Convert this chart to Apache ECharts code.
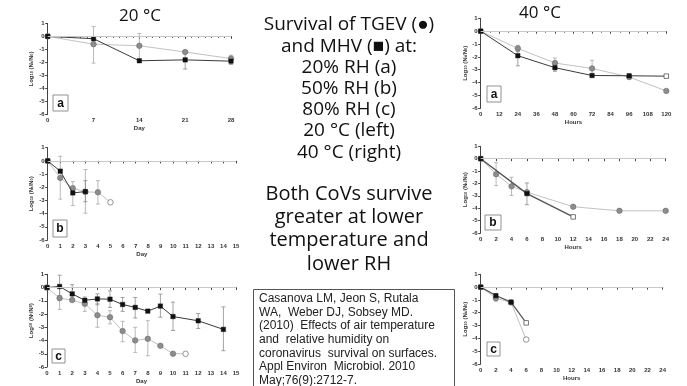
<!DOCTYPE html>
<html><head><meta charset="utf-8">
<script src="https://cdn.jsdelivr.net/npm/echarts@6/dist/echarts.min.js"></script>
<style>html,body{margin:0;padding:0;background:#fff}#c{width:687px;height:386px}</style>
</head><body><div id="c"></div>
<script>
// ---------- DATA ----------
// 20 °C, 20% RH (a)
const daysA20 = [0, 7, 14, 21, 28];
const tgevA20 = [0, -0.6, -0.72, -1.2, -1.7];
const mhvA20 = [0, -0.18, -1.87, -1.8, -1.9];
const tgevErrA20 = [[7, -2.05, 0.75], [14, -1.75, 0.22], [28, -2.0, -1.45]];
const mhvErrA20 = [[21, -2.5, -1.13], [28, -2.15, -1.65]];
// 20 °C, 50% RH (b)
const tgevDaysB20 = [0, 1, 2, 3, 4, 5];
const tgevB20 = [0, -1.29, -2.07, -2.35, -2.38, -3.14];
const tgevOpenB20 = [5];
const mhvDaysB20 = [0, 1, 2, 3];
const mhvB20 = [0, -0.78, -2.43, -2.33];
const tgevErrB20 = [[1, -2.9, 0.35], [2, -3.39, -1.57], [3, -3.97, -0.66], [4, -3.27, -1.5]];
const mhvErrB20 = [[3, -3.1, -1.5]];
// 20 °C, 80% RH (c)
const tgevDaysC20 = [0, 1, 2, 3, 4, 5, 6, 7, 8, 9, 10, 11];
const tgevC20 = [0, -0.8, -0.95, -1.23, -2.09, -2.24, -3.29, -3.99, -3.87, -4.4, -5.0, -5.0];
const tgevOpenC20 = [11];
const mhvDaysC20 = [0, 1, 2, 3, 4, 5, 6, 7, 8, 9, 10, 12, 14];
const mhvC20 = [0, 0.08, -0.48, -0.96, -0.86, -0.88, -1.28, -1.5, -1.78, -1.4, -2.19, -2.51, -3.16];
const tgevErrC20 = [[1, -1.65, 0.1], [3, -1.8, -0.7], [4, -3.0, -1.2], [5, -2.74, -1.75], [6, -4.09, -2.55], [7, -4.9, -3.0], [8, -5.15, -2.5]];
const mhvErrC20 = [[1, -0.6, 0.93], [2, -1.0, 0.22], [4, -1.3, -0.48], [5, -1.5, -0.25], [6, -1.8, -0.75], [7, -2.3, -0.75], [9, -2.24, -0.5], [10, -3.24, -1.1], [12, -3.09, -1.96], [14, -4.77, -1.46]];
// 40 °C, 20% RH (a)
const hoursA40 = [0, 24, 48, 72, 96, 120];
const tgevA40 = [0, -1.34, -2.48, -2.9, -3.57, -4.65];
const mhvA40 = [0, -1.91, -2.84, -3.45, -3.47, -3.5];
const mhvOpenA40 = [5];
const tgevErrA40 = [[24, -1.6, -1.1], [48, -2.8, -2.09], [72, -3.4, -2.27], [96, -3.75, -3.4]];
const mhvErrA40 = [[24, -2.7, -1.55], [48, -3.12, -2.6]];
// 40 °C, 50% RH (b)
const tgevHoursB40 = [0, 2, 4, 6, 12, 18, 24];
const tgevB40 = [0, -1.25, -2.23, -2.7, -3.88, -4.21, -4.21];
const mhvHoursB40 = [0, 6, 12];
const mhvB40 = [0, -2.82, -4.7];
const mhvOpenB40 = [2];
const tgevErrB40 = [[2, -2.17, -0.33], [4, -2.96, -1.5]];
const mhvErrB40 = [[6, -3.72, -1.96]];
// 40 °C, 80% RH (c)
const hoursC40 = [0, 2, 4, 6];
const tgevC40 = [0, -0.86, -1.2, -4.09];
const tgevOpenC40 = [3];
const mhvC40 = [0, -0.66, -1.17, -2.79];
const mhvOpenC40 = [3];
const tgevErrC40 = [[2, -1.1, -0.6]];
const mhvErrC40 = [];

// ---------- LAYOUT ----------
const grids = [
  {left: 47.7, top: 23.3, width: 183.3, height: 91.4},
  {left: 47.7, top: 147.7, width: 188.3, height: 92.3},
  {left: 47, top: 274.3, width: 189, height: 92.7},
  {left: 480.7, top: 18.3, width: 185.6, height: 90},
  {left: 480.7, top: 146.3, width: 185, height: 86.7},
  {left: 480.7, top: 274.3, width: 182, height: 89.7}
];
const xCfg = [
  {max: 28, interval: 7, minor: 7, name: 'Day'},
  {max: 15, interval: 1, minor: 0, name: 'Day'},
  {max: 15, interval: 1, minor: 0, name: 'Day'},
  {max: 120, interval: 12, minor: 2, name: 'Hours'},
  {max: 24, interval: 2, minor: 0, name: 'Hours'},
  {max: 24, interval: 2, minor: 0, name: 'Hours'}
];
const axisCol = '#444';
const lblStyle = {fontSize: 6, fontWeight: 'bold', color: '#333', fontFamily: 'Liberation Sans'};

const xAxis = xCfg.map((c, i) => ({
  type: 'value', gridIndex: i, min: 0, max: c.max, interval: c.interval,
  name: c.name, nameLocation: 'middle', nameGap: 11,
  nameTextStyle: {fontSize: 6, fontWeight: 'bold', color: '#333', fontFamily: 'Liberation Sans'},
  axisLine: {show: true, lineStyle: {color: axisCol, width: 1}},
  axisTick: {show: true, length: 2.5, lineStyle: {color: axisCol}},
  minorTick: {show: c.minor > 0, splitNumber: c.minor || 5, length: 1.5, lineStyle: {color: axisCol}},
  axisLabel: Object.assign({margin: 3}, lblStyle),
  splitLine: {show: false}
}));
const yAxis = grids.map((g, i) => ({
  type: 'value', gridIndex: i, min: -6, max: 1, interval: 1,
  name: '{t|Log}{s|10}{t| (N}{s|t}{t|/N}{s|0}{t|)}',
  nameLocation: 'middle', nameGap: i < 3 ? 13 : 11,
  nameTextStyle: {rich: {
    t: {fontSize: 6, fontWeight: 'bold', color: '#333', fontFamily: 'Liberation Sans'},
    s: {fontSize: 4, fontWeight: 'bold', color: '#333', fontFamily: 'Liberation Sans'}
  }},
  axisLine: {show: true, lineStyle: {color: axisCol, width: 1}},
  axisTick: {show: true, length: 2.5, lineStyle: {color: axisCol}},
  axisLabel: Object.assign({margin: 3}, lblStyle),
  splitLine: {show: false}
}));

const TG = {fill: '#8d8d8d', stroke: '#6a6a6a', line: '#c2c2c2', err: '#a8a8a8'};
const MH = {fill: '#111', stroke: '#111', line: '#3a3a3a', err: '#8a8a8a'};

function pts(xs, ys, open, kind) {
  return xs.map((x, i) => {
    const it = {value: [x, ys[i]]};
    if (open && open.indexOf(i) >= 0) it.itemStyle = {color: '#fff', borderColor: kind === 'tg' ? '#777' : '#555', borderWidth: 0.8};
    return it;
  });
}
function tgevSeries(gi, xs, ys, open) {
  return {
    type: 'line', xAxisIndex: gi, yAxisIndex: gi, z: 3,
    data: pts(xs, ys, open, 'tg'),
    symbol: 'circle', symbolSize: 5.5,
    itemStyle: {color: TG.fill, borderColor: TG.stroke, borderWidth: 0.6},
    lineStyle: {color: TG.line, width: 1},
    markLine: {silent: true, symbol: 'none', label: {show: false},
      lineStyle: {color: '#c8c8c8', width: 1, type: 'solid'}, data: [{yAxis: 0}]}
  };
}
function mhvSeries(gi, xs, ys, open, lineCol, lw) {
  return {
    type: 'line', xAxisIndex: gi, yAxisIndex: gi, z: 4,
    data: pts(xs, ys, open, 'mh'),
    symbol: 'rect', symbolSize: 4.5,
    itemStyle: {color: MH.fill, borderColor: MH.stroke, borderWidth: 0.4},
    lineStyle: {color: lineCol || MH.line, width: lw || 1}
  };
}
function errSeries(gi, data, col) {
  return {
    type: 'custom', xAxisIndex: gi, yAxisIndex: gi, z: 2,
    data: data, encode: {x: 0, y: [1, 2]},
    renderItem: function (params, api) {
      const x = api.value(0);
      const a = api.coord([x, api.value(1)]);
      const b = api.coord([x, api.value(2)]);
      const st = {stroke: col, lineWidth: 0.8};
      return {type: 'group', children: [
        {type: 'line', shape: {x1: a[0], y1: a[1], x2: b[0], y2: b[1]}, style: st},
        {type: 'line', shape: {x1: a[0] - 2, y1: a[1], x2: a[0] + 2, y2: a[1]}, style: st},
        {type: 'line', shape: {x1: b[0] - 2, y1: b[1], x2: b[0] + 2, y2: b[1]}, style: st}
      ]};
    }
  };
}

const series = [
  errSeries(0, tgevErrA20, TG.err), errSeries(0, mhvErrA20, MH.err),
  tgevSeries(0, daysA20, tgevA20, []), mhvSeries(0, daysA20, mhvA20, []),
  errSeries(1, tgevErrB20, TG.err), errSeries(1, mhvErrB20, MH.err),
  tgevSeries(1, tgevDaysB20, tgevB20, tgevOpenB20), mhvSeries(1, mhvDaysB20, mhvB20, []),
  errSeries(2, tgevErrC20, TG.err), errSeries(2, mhvErrC20, MH.err),
  tgevSeries(2, tgevDaysC20, tgevC20, tgevOpenC20), mhvSeries(2, mhvDaysC20, mhvC20, []),
  errSeries(3, tgevErrA40, TG.err), errSeries(3, mhvErrA40, MH.err),
  tgevSeries(3, hoursA40, tgevA40, []), mhvSeries(3, hoursA40, mhvA40, mhvOpenA40),
  errSeries(4, tgevErrB40, TG.err), errSeries(4, mhvErrB40, MH.err),
  tgevSeries(4, tgevHoursB40, tgevB40, []), mhvSeries(4, mhvHoursB40, mhvB40, mhvOpenB40, '#555', 1.4),
  errSeries(5, tgevErrC40, TG.err), errSeries(5, mhvErrC40, MH.err),
  tgevSeries(5, hoursC40, tgevC40, tgevOpenC40), mhvSeries(5, hoursC40, mhvC40, mhvOpenC40, '#555', 1.2)
];

// ---------- TEXT ----------
const letterBoxes = [
  {x: 53, y: 95, w: 15, h: 16, t: 'a'},
  {x: 53, y: 220, w: 14, h: 17, t: 'b'},
  {x: 52, y: 349, w: 13, h: 14, t: 'c'},
  {x: 487, y: 86, w: 14, h: 16, t: 'a'},
  {x: 485, y: 215, w: 16, h: 15, t: 'b'},
  {x: 487, y: 342, w: 13, h: 14, t: 'c'}
];
const centerLines = ['Survival of TGEV (\u25CF)', 'and MHV (\u25A0) at:', '20% RH (a)', '50% RH (b)', '80% RH (c)', '20 \u00B0C (left)', '40 \u00B0C (right)'];
const conclusionLines = ['Both CoVs survive', 'greater at lower', 'temperature and', 'lower RH'];
const citationLines = ['Casanova LM, Jeon S, Rutala', 'WA,  Weber DJ, Sobsey MD.', '(2010)  Effects of air temperature', 'and  relative humidity on', 'coronavirus  survival on surfaces.', 'Appl Environ  Microbiol. 2010', 'May;76(9):2712-7.'];

const FONT = 'Open Sans';
const graphic = [];
letterBoxes.forEach(b => {
  graphic.push({type: 'rect', shape: {x: b.x, y: b.y, width: b.w, height: b.h}, style: {fill: '#fff', stroke: '#777', lineWidth: 0.8}, z: 10});
  graphic.push({type: 'text', x: b.x + b.w / 2, y: b.y + b.h / 2 + 0.5, style: {text: b.t, fill: '#111', font: 'bold 12px "Liberation Sans"', textAlign: 'center', textVerticalAlign: 'middle'}, z: 11});
});
graphic.push({type: 'text', x: 140, y: 16, style: {text: '20 \u00B0C', fill: '#111', font: '17px "' + FONT + '"', textAlign: 'center', textVerticalAlign: 'middle'}});
graphic.push({type: 'text', x: 540, y: 13, style: {text: '40 \u00B0C', fill: '#111', font: '17px "' + FONT + '"', textAlign: 'center', textVerticalAlign: 'middle'}});
centerLines.forEach((t, i) => {
  graphic.push({type: 'text', x: 349, y: 25 + i * 21.2, style: {text: t, fill: '#111', font: '19px "' + FONT + '"', textAlign: 'center', textVerticalAlign: 'middle'}});
});
conclusionLines.forEach((t, i) => {
  graphic.push({type: 'text', x: 349, y: 194 + i * 23.3, style: {text: t, fill: '#111', font: '20px "' + FONT + '"', textAlign: 'center', textVerticalAlign: 'middle'}});
});
graphic.push({type: 'rect', shape: {x: 253.5, y: 289.5, width: 201, height: 100}, style: {fill: 'none', stroke: '#555', lineWidth: 1}});
citationLines.forEach((t, i) => {
  graphic.push({type: 'text', x: 259, y: 298.5 + i * 13.7, style: {text: t, fill: '#222', font: '12px "Liberation Sans"', textAlign: 'left', textVerticalAlign: 'middle'}});
});

const chart = echarts.init(document.getElementById('c'));
chart.setOption({
  animation: false,
  backgroundColor: '#fff',
  grid: grids,
  xAxis: xAxis,
  yAxis: yAxis,
  series: series,
  graphic: graphic
});
</script>
</body></html>
